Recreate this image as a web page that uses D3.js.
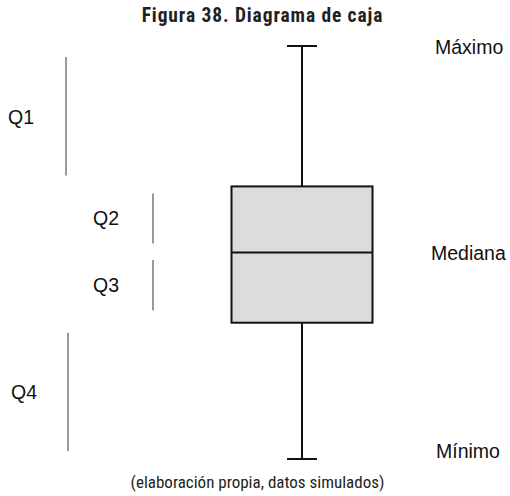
<!DOCTYPE html>
<html>
<head>
<meta charset="utf-8">
<script src="https://cdn.jsdelivr.net/npm/d3@7"></script>
<style>
  html, body { margin: 0; padding: 0; background: #fff; }
  svg { display: block; }
</style>
</head>
<body>
<svg id="chart" width="510" height="496"></svg>
<script>
// Five-number summary of the simulated data
const statNames = ["min", "q1", "median", "q3", "max"];
const statValues = [0, 33, 50, 66, 100];

// Quartile bands: label and the pair of stats each one spans
const quartileLabels = ["Q1", "Q2", "Q3", "Q4"];
const quartileSpans = [["max", "q3"], ["q3", "median"], ["median", "q1"], ["q1", "min"]];

// Labels on the right-hand side and the stat they point at
const sideLabels = ["Máximo", "Mediana", "Mínimo"];
const sideStats = ["max", "median", "min"];

const titleText = "Figura 38. Diagrama de caja";
const sourceText = "(elaboración propia, datos simulados)";

const stats = Object.fromEntries(statNames.map((n, i) => [n, statValues[i]]));

const svg = d3.select("#chart");
const y = d3.scaleLinear().domain([0, 100]).range([459, 46]);

const labelFont = "'Liberation Sans', Arial, Helvetica, sans-serif";
const condFont = "'Roboto Condensed', Roboto, sans-serif";

// Box layout
const cx = 302, boxW = 141, capW = 30;

// Title and source
svg.append("text")
  .attr("x", 262.5).attr("y", 22)
  .attr("text-anchor", "middle")
  .style("font-family", condFont)
  .style("font-stretch", "condensed")
  .style("font-weight", "bold")
  .style("font-size", "19.5px")
  .style("letter-spacing", "0.9px")
  .style("fill", "#231f20")
  .text(titleText);

svg.append("text")
  .attr("x", 257.5).attr("y", 488)
  .attr("text-anchor", "middle")
  .style("font-family", condFont)
  .style("font-stretch", "condensed")
  .style("font-size", "17px")
  .style("fill", "#231f20")
  .text(sourceText);

const g = svg.append("g").style("stroke", "#111").style("stroke-width", 2);

// Whiskers
g.append("line").attr("x1", cx).attr("x2", cx)
  .attr("y1", y(stats.max)).attr("y2", y(stats.q3));
g.append("line").attr("x1", cx).attr("x2", cx)
  .attr("y1", y(stats.q1)).attr("y2", y(stats.min));
[stats.max, stats.min].forEach(v => {
  g.append("line").attr("x1", cx - capW / 2).attr("x2", cx + capW / 2)
    .attr("y1", y(v)).attr("y2", y(v));
});

// Box and median
g.append("rect")
  .attr("x", cx - boxW / 2).attr("y", y(stats.q3))
  .attr("width", boxW).attr("height", y(stats.q1) - y(stats.q3))
  .style("fill", "#dcdcdc");
g.append("line").attr("x1", cx - boxW / 2).attr("x2", cx + boxW / 2)
  .attr("y1", y(stats.median)).attr("y2", y(stats.median));

// Quartile brackets on the left
const bracketX = [66, 153, 153, 68];
const bracketInset = [[11, 11], [7, 9], [7.5, 12.5], [10, 8]];
const labelX = [8, 93, 93, 11];
const labelShift = [1, 0, 0, 0];

quartileLabels.forEach((lab, i) => {
  const [a, b] = quartileSpans[i];
  const y0 = y(stats[a]) + bracketInset[i][0];
  const y1 = y(stats[b]) - bracketInset[i][1];
  svg.append("line")
    .attr("x1", bracketX[i]).attr("x2", bracketX[i])
    .attr("y1", y0).attr("y2", y1)
    .style("stroke", "#555").style("stroke-width", 1.2);
  svg.append("text")
    .attr("x", labelX[i]).attr("y", (y0 + y1) / 2 + labelShift[i])
    .attr("dy", "0.36em")
    .style("font-family", labelFont)
    .style("font-size", "19.5px")
    .style("fill", "#111")
    .text(lab);
});

// Right-hand labels
const sideX = [435, 431, 436];
const sideDy = [1, 0, -8];
sideLabels.forEach((lab, i) => {
  svg.append("text")
    .attr("x", sideX[i]).attr("y", y(stats[sideStats[i]]) + sideDy[i])
    .attr("dy", "0.36em")
    .style("font-family", labelFont)
    .style("font-size", "19.5px")
    .style("fill", "#111")
    .text(lab);
});
</script>
</body>
</html>
